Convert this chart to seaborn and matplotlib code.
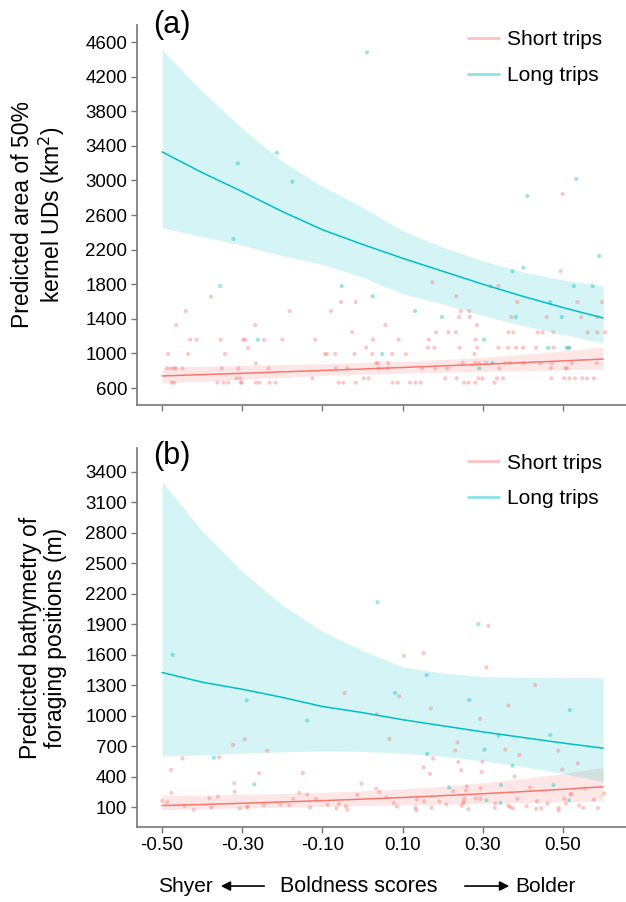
import numpy as np
import pandas as pd
import matplotlib
matplotlib.use('Agg')
import matplotlib.pyplot as plt
import seaborn as sns
from matplotlib.lines import Line2D

sns.set_style('white')
plt.rcParams['font.family'] = ['Liberation Sans', 'DejaVu Sans']
plt.rcParams['text.color'] = 'black'
plt.rcParams['axes.labelcolor'] = 'black'

# grid for the fitted curves
x_fit = [-0.5, -0.4, -0.3, -0.2, -0.1, 0.0, 0.1, 0.2, 0.3, 0.4, 0.5, 0.6]

# panel (a) fitted values
a_long_fit = [3330, 3090, 2870, 2640, 2430, 2260, 2100, 1950, 1800, 1660, 1530, 1410]
a_long_hi = [4510, 4030, 3600, 3220, 2930, 2690, 2420, 2230, 2070, 1940, 1850, 1780]
a_long_lo = [2450, 2350, 2250, 2130, 2030, 1880, 1690, 1570, 1440, 1320, 1220, 1120]
a_short_fit = [740, 755, 770, 787, 803, 820, 838, 856, 874, 894, 914, 935]
a_short_hi = [843, 852, 862, 872, 880, 895, 910, 930, 955, 990, 1030, 1075]
a_short_lo = [658, 680, 700, 722, 745, 760, 772, 782, 790, 800, 810, 820]

# panel (b) fitted values
b_long_fit = [1425, 1330, 1260, 1180, 1090, 1030, 960, 900, 840, 785, 730, 680]
b_long_hi = [3300, 2820, 2420, 2090, 1830, 1640, 1480, 1420, 1385, 1378, 1375, 1374]
b_long_lo = [600, 615, 630, 643, 652, 648, 630, 600, 555, 500, 430, 350]
b_short_fit = [115, 125, 137, 150, 163, 178, 194, 212, 231, 252, 275, 300]
b_short_hi = [215, 218, 225, 233, 245, 260, 280, 305, 340, 380, 430, 490]
b_short_lo = [75, 83, 90, 98, 105, 113, 120, 127, 135, 142, 150, 160]

# panel (a) observed points
a_short_x = [-0.378, -0.441, -0.182, -0.465, -0.268, -0.430, -0.414, -0.354, -0.298, -0.293,
             -0.246, -0.200, -0.286, -0.485, -0.435, -0.343, -0.266, -0.487, -0.477, -0.469,
             -0.466, -0.449, -0.351, -0.310, -0.235, -0.315, -0.305, -0.476, -0.470, -0.362,
             -0.347, -0.335, -0.304, -0.301, -0.266, -0.257, -0.232, -0.217,
             0.174, 0.234, -0.054, -0.017, -0.079, 0.245, 0.241, 0.057, -0.026, 0.183,
             0.214, 0.233, -0.118, 0.026, 0.090, 0.165, 0.009, 0.163, 0.179, 0.242,
             -0.094, -0.089, -0.068, -0.020, 0.024, 0.074, 0.108, 0.034, 0.039, 0.064,
             -0.067, -0.038, 0.040, 0.063, 0.148, 0.181, 0.211, -0.125, 0.003, 0.015,
             0.206, 0.235, -0.060, -0.048, -0.017, 0.075, 0.088, 0.118, 0.132, 0.145,
             0.494, 0.499, 0.319, 0.339, 0.386, 0.536, 0.597, 0.371, 0.459, 0.545,
             0.585, 0.266, 0.267, 0.285, 0.364, 0.376, 0.437, 0.449, 0.476, 0.561,
             0.585, 0.605, 0.282, 0.286, 0.339, 0.363, 0.383, 0.400, 0.433, 0.476,
             0.517, 0.279, 0.250, 0.281, 0.291, 0.308, 0.355, 0.368, 0.401, 0.443,
             0.472, 0.522, 0.584, 0.341, 0.470, 0.506, 0.510, 0.289, 0.299, 0.335,
             0.350, 0.471, 0.503, 0.516, 0.530, 0.548, 0.560, 0.577, 0.253, 0.264,
             0.281, 0.329]
a_short_y = [1656, 1490, 1490, 1328, 1328, 1159, 1159, 1159, 1159, 1159,
             1159, 1159, 1066, 993, 993, 993, 886, 828, 828, 828,
             828, 828, 828, 828, 828, 712, 712, 662, 662, 662,
             662, 662, 662, 662, 662, 662, 662, 662,
             1822, 1660, 1594, 1594, 1490, 1490, 1421, 1328, 1244, 1244,
             1244, 1244, 1159, 1159, 1159, 1159, 1066, 1066, 1066, 1066,
             993, 993, 993, 993, 993, 993, 993, 889, 889, 889,
             828, 828, 828, 828, 828, 828, 828, 712, 712, 712,
             712, 712, 662, 662, 662, 662, 662, 662, 662, 662,
             1950, 2843, 1779, 1779, 1594, 1594, 1594, 1421, 1421, 1421,
             1421, 1490, 1421, 1328, 1244, 1244, 1244, 1244, 1244, 1244,
             1244, 1244, 1159, 1066, 1066, 1066, 1066, 1066, 1066, 1066,
             1066, 993, 889, 889, 889, 889, 889, 889, 889, 889,
             889, 889, 889, 828, 828, 828, 828, 712, 712, 712,
             712, 712, 712, 712, 712, 712, 712, 712, 662, 662,
             662, 662]
a_long_x = [0.011, -0.214, -0.311, -0.175, -0.322, -0.355, -0.261, 0.533, 0.411, 0.590,
            -0.052, 0.025, 0.131, 0.198, 0.049, 0.374, 0.401, 0.527, 0.574, 0.468,
            0.382, 0.497, 0.303, 0.463, 0.509, 0.514, 0.324, 0.291]
a_long_y = [4480, 3320, 3197, 2985, 2323, 1779, 1159, 3016, 2820, 2126,
            1779, 1660, 1490, 1421, 993, 1953, 1991, 1779, 1779, 1594,
            1421, 1421, 1159, 1066, 1066, 1066, 889, 828]

# panel (b) observed points
b_short_x = [0.314, 0.103, 0.152, 0.309, 0.430, -0.045, 0.091, 0.364, 0.170, 0.035,
             0.293, 0.067, 0.237, 0.356, 0.231, 0.488, 0.391, 0.176, 0.239, 0.299,
             0.537, 0.152, 0.246, 0.498, 0.297, -0.149, 0.168, 0.379, -0.003, 0.418,
             0.034, 0.042, 0.260, 0.258, 0.294, 0.226, 0.555, 0.603, -0.013,
             -0.294, -0.323, -0.238, -0.449, -0.358, -0.478, -0.258, -0.320, -0.477, -0.319,
             -0.158, -0.382, -0.361, -0.500, -0.487, -0.173, -0.138, -0.444, -0.421, -0.377,
             -0.306, -0.289, -0.286, -0.246, -0.205, -0.183, -0.131,
             -0.116, -0.087, -0.059, -0.065, -0.042, -0.038, 0.059, 0.078, 0.086, 0.135,
             0.132, 0.134, 0.153, 0.172, 0.191, 0.209, 0.247, 0.252,
             0.520, 0.254, 0.251, 0.264, 0.282, 0.294, 0.331, 0.330, 0.364, 0.368,
             0.375, 0.386, 0.409, 0.435, 0.433, 0.446, 0.461, 0.489, 0.489, 0.507,
             0.503, 0.519, 0.540, 0.551, 0.577, 0.587]
b_short_y = [1885, 1590, 1617, 1475, 1302, 1223, 1190, 1098, 1072, 1013,
             970, 771, 737, 666, 656, 656, 610, 577, 545, 545,
             531, 492, 462, 469, 446, 436, 427, 400, 331, 292,
             282, 250, 305, 263, 285, 256, 282, 233, 220,
             767, 712, 653, 580, 590, 466, 433, 334, 240, 250,
             240, 187, 204, 161, 147, 181, 223, 112, 73, 96,
             86, 96, 106, 119, 128, 119, 96,
             181, 124, 131, 88, 108, 75, 193, 141, 105, 174,
             92, 69, 157, 92, 154, 127, 114, 154,
             230, 181, 135, 79, 184, 181, 135, 92, 114, 98,
             88, 181, 108, 157, 82, 88, 135, 92, 66, 135,
             181, 223, 114, 92, 174, 92]
b_long_x = [0.037, 0.289, 0.160, 0.081, 0.266, 0.517, -0.138, 0.468, 0.304, 0.161,
            0.374, 0.345, 0.476, 0.216, -0.289, -0.371, -0.270, 0.339, 0.309, 0.344,
            0.515, -0.474]
b_long_y = [2118, 1902, 1400, 1223, 1154, 1056, 951, 810, 666, 623,
            508, 318, 318, 292, 1151, 587, 325, 803, 167, 141,
            167, 1600]

trips = ['Short trips', 'Long trips']
colors = {'Short trips': '#F8766D', 'Long trips': '#00BFC4'}
x_ticks = [-0.5, -0.3, -0.1, 0.1, 0.3, 0.5]

fig = plt.figure(figsize=(6.26, 9.02), dpi=100)
ax1 = fig.add_axes([0.219, 0.551, 0.781, 0.4213])
ax2 = fig.add_axes([0.219, 0.0831, 0.781, 0.4202])

panels = [
    (ax1, a_short_x, a_short_y, a_long_x, a_long_y,
     (a_short_fit, a_short_lo, a_short_hi), (a_long_fit, a_long_lo, a_long_hi),
     np.arange(600, 4601, 400), (404, 4797), '(a)',
     'Predicted area of 50%\nkernel UDs (km$^2$)'),
    (ax2, b_short_x, b_short_y, b_long_x, b_long_y,
     (b_short_fit, b_short_lo, b_short_hi), (b_long_fit, b_long_lo, b_long_hi),
     np.arange(100, 3401, 300), (-97, 3636), '(b)',
     'Predicted bathymetry of\nforaging positions (m)'),
]

for ax, sx, sy, lx, ly, sfit, lfit, yt, ylim, tag, ylab in panels:
    pts = pd.DataFrame({
        'x': sx + lx,
        'y': sy + ly,
        'trip': ['Short trips'] * len(sx) + ['Long trips'] * len(lx),
    })
    fits = pd.DataFrame({
        'x': x_fit * 2,
        'y': list(sfit[0]) + list(lfit[0]),
        'lo': list(sfit[1]) + list(lfit[1]),
        'hi': list(sfit[2]) + list(lfit[2]),
        'trip': ['Short trips'] * len(x_fit) + ['Long trips'] * len(x_fit),
    })
    for t in trips:
        d = fits[fits['trip'] == t]
        ax.fill_between(d['x'], d['lo'], d['hi'], color=colors[t], alpha=0.17, lw=0)
    sns.lineplot(data=fits, x='x', y='y', hue='trip', palette=colors, ax=ax,
                 legend=False, lw=1.1)
    sns.scatterplot(data=pts, x='x', y='y', hue='trip', palette=colors, ax=ax,
                    legend=False, s=9, alpha=0.4, linewidth=0)

    ax.set_xlim(-0.5624, 0.657)
    ax.set_ylim(*ylim)
    ax.set_yticks(yt)
    ax.set_xticks(x_ticks)
    ax.set_xlabel('')
    ax.set_ylabel(ylab, fontsize=16.5, labelpad=13, linespacing=1.15)
    for s in ['top', 'right']:
        ax.spines[s].set_visible(False)
    for s in ['left', 'bottom']:
        ax.spines[s].set_color('#777777')
        ax.spines[s].set_linewidth(1.2)
    ax.tick_params(axis='both', length=4, width=1, color='#777777', labelsize=13.5,
                   labelcolor='black', left=True, bottom=True, pad=3)
    ax.text(0.033, 1.0 if tag == '(a)' else 0.978, tag, transform=ax.transAxes,
            fontsize=22, va='center', ha='left')

    handles = [Line2D([], [], color=colors[t], alpha=0.45, lw=2) for t in trips]
    ax.legend(handles, trips, loc='upper right', bbox_to_anchor=(0.99, 1.035),
              frameon=False, fontsize=15, handlelength=1.5, handletextpad=0.4,
              labelspacing=0.8)

ax1.set_xticklabels([])
ax2.set_xticklabels(['%.2f' % v for v in x_ticks])

yb = 0.0177
fig.text(158 / 626, yb, 'Shyer', fontsize=15, ha='left', va='center')
fig.text(359 / 626, yb, 'Boldness scores', fontsize=15.5, ha='center', va='center')
fig.text(515 / 626, yb, 'Bolder', fontsize=15, ha='left', va='center')
arrow_kw = dict(arrowstyle='-|>', color='black', lw=1.2, mutation_scale=14)
ax2.annotate('', xy=(218 / 626, yb), xytext=(267 / 626, yb), xycoords='figure fraction',
             textcoords='figure fraction', arrowprops=arrow_kw, annotation_clip=False)
ax2.annotate('', xy=(512 / 626, yb), xytext=(462 / 626, yb), xycoords='figure fraction',
             textcoords='figure fraction', arrowprops=arrow_kw, annotation_clip=False)

fig.savefig('out.png', dpi=100)
